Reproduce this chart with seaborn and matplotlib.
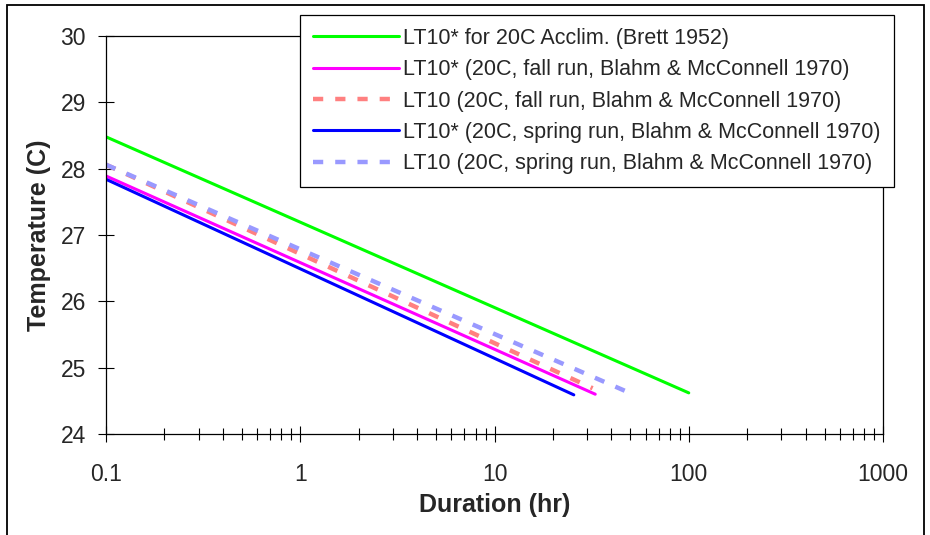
import matplotlib
matplotlib.use('Agg')
import matplotlib.pyplot as plt
from matplotlib.patches import Rectangle
from matplotlib.ticker import FixedLocator, LogLocator, NullFormatter
import seaborn as sns

# Datos: duracion (hr) y temperatura (C)
brett_x = [0.1, 100]
brett_y = [28.48, 24.62]

fall_star_x = [0.1, 33]
fall_star_y = [27.89, 24.60]

fall_x = [0.1, 32]
fall_y = [28.06, 24.69]

spring_star_x = [0.1, 25.6]
spring_star_y = [27.84, 24.59]

spring_x = [0.1, 47]
spring_y = [28.06, 24.65]

etiquetas = [
    'LT10* for 20C Acclim. (Brett 1952)',
    'LT10* (20C, fall run, Blahm & McConnell 1970)',
    'LT10 (20C, fall run, Blahm & McConnell 1970)',
    'LT10* (20C, spring run, Blahm & McConnell 1970)',
    'LT10 (20C, spring run, Blahm & McConnell 1970)',
]

x_ticks = [0.1, 1, 10, 100, 1000]
x_tick_labels = ['0.1', '1', '10', '100', '1000']
y_ticks = [24, 25, 26, 27, 28, 29, 30]

sns.set_style('white')
plt.rcParams['font.family'] = ['Liberation Sans', 'DejaVu Sans']

W, H = 930, 535
fig = plt.figure(figsize=(W / 100, H / 100), dpi=100)
ax = fig.add_axes([106 / W, 1 - 434 / H, (883 - 106) / W, (434 - 36) / H])

# Estilo de cada serie
series = [
    (brett_x, brett_y, '#00FF00', '-'),
    (fall_star_x, fall_star_y, '#FF00FF', '-'),
    (fall_x, fall_y, '#FF8080', (0, (2.3, 2.7))),
    (spring_star_x, spring_star_y, '#0000FF', '-'),
    (spring_x, spring_y, '#9999FF', (0, (2.3, 2.7))),
]

for (xs, ys, color, ls), etiqueta in zip(series, etiquetas):
    grosor = 3.2 if ls != '-' else 2.2
    sns.lineplot(x=xs, y=ys, ax=ax, color=color, linewidth=grosor,
                 linestyle=ls, label=etiqueta)

ax.set_xscale('log')
ax.set_xlim(0.1, 1000)
ax.set_ylim(24, 30)
ax.xaxis.set_major_locator(FixedLocator(x_ticks))
ax.set_xticklabels(x_tick_labels)
ax.xaxis.set_minor_locator(LogLocator(base=10, subs=range(2, 10)))
ax.xaxis.set_minor_formatter(NullFormatter())
ax.set_yticks(y_ticks)
ax.set_yticklabels([str(v) for v in y_ticks])

for lado in ['left', 'right', 'top', 'bottom']:
    ax.spines[lado].set_color('black')
    ax.spines[lado].set_linewidth(0.9)

ax.tick_params(axis='both', which='both', bottom=True, left=True,
               top=False, right=False)
ax.tick_params(axis='both', which='major', direction='inout', length=11.5,
               width=0.8, color='black', labelsize=16.5)
ax.tick_params(axis='x', which='major', pad=15)
ax.tick_params(axis='y', which='major', pad=8.6)
ax.tick_params(axis='x', which='minor', direction='inout', length=8.5,
               width=0.8, color='black')

ax.set_xlabel('Duration (hr)', fontsize=18, fontweight='bold', labelpad=5)
ax.set_ylabel('Temperature (C)', fontsize=18, fontweight='bold', labelpad=7)

leg = ax.legend(loc='upper left', bbox_to_anchor=(300 / W, 1 - 15 / H),
                bbox_transform=fig.transFigure, fontsize=15.5, frameon=True,
                fancybox=False, framealpha=1, edgecolor='black',
                borderpad=0.6, borderaxespad=0, handlelength=4.0,
                handletextpad=0.2, labelspacing=0.48)
leg.get_frame().set_linewidth(0.9)

# Borde exterior del grafico
fig.patches.append(Rectangle((7 / W, -0.02), (924 - 7) / W, 1.02 - 5 / H,
                             transform=fig.transFigure, fill=False,
                             edgecolor='black', linewidth=1.3))

fig.savefig('out.png', dpi=100)
